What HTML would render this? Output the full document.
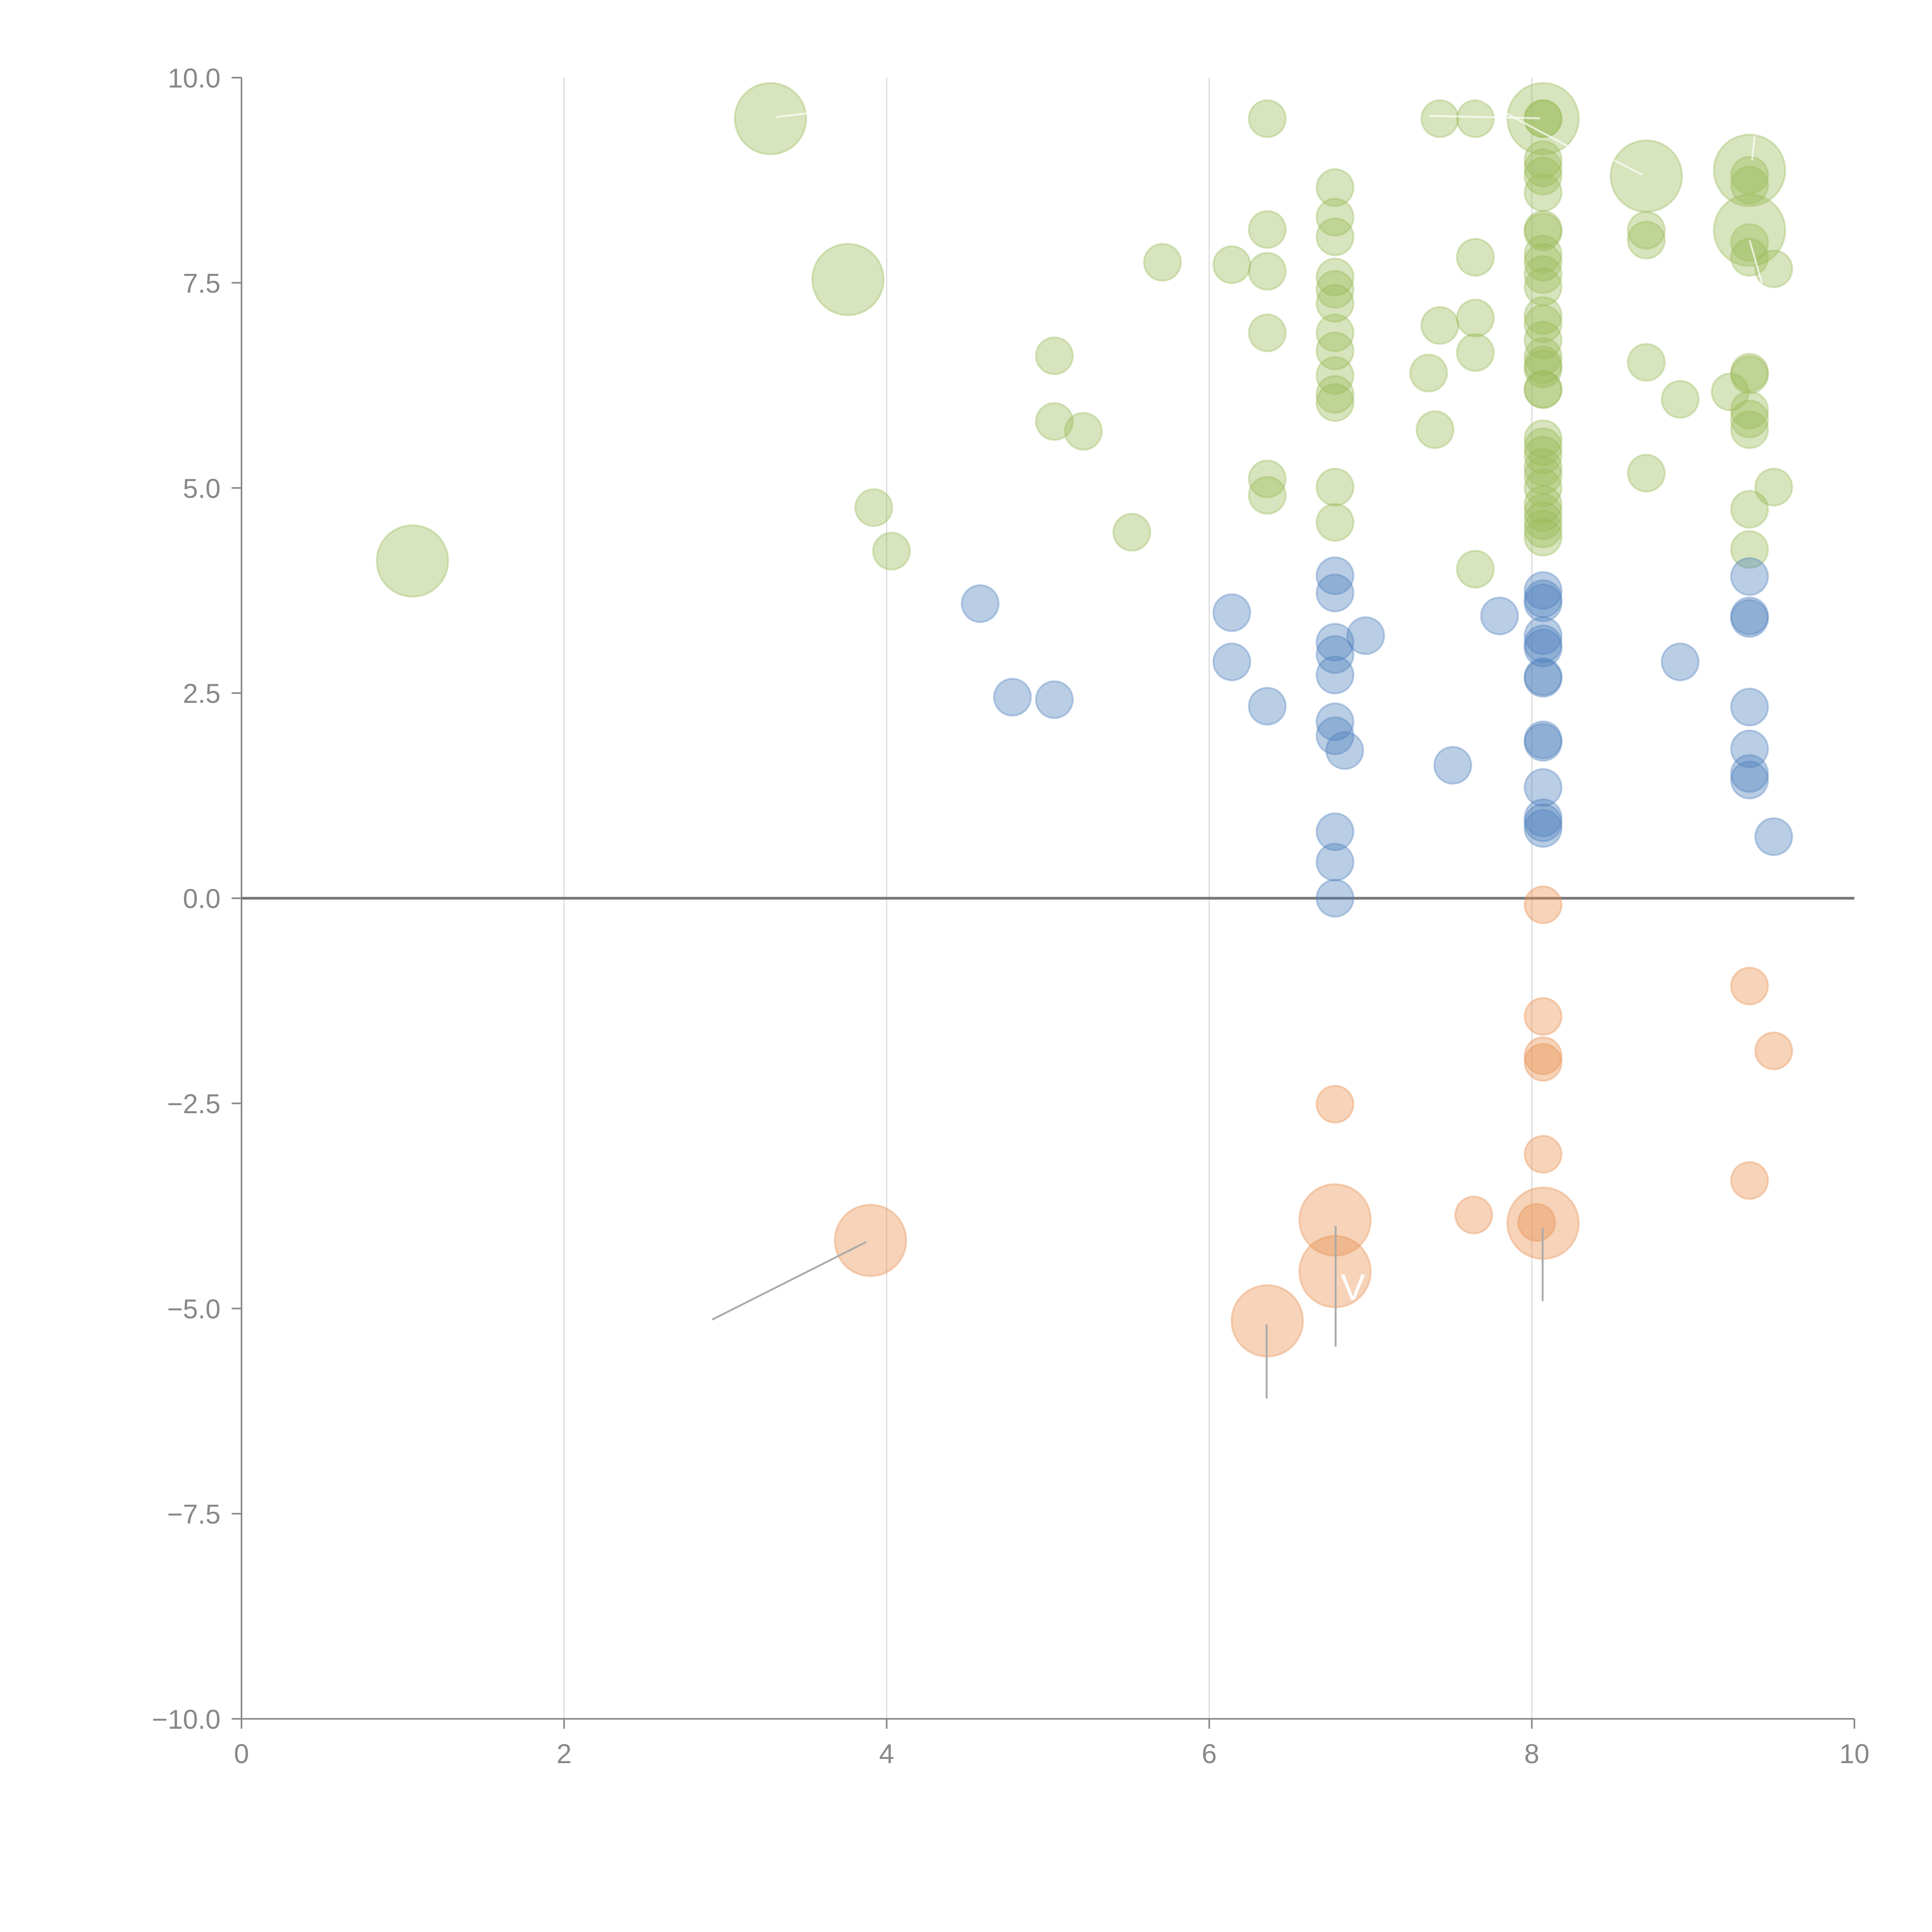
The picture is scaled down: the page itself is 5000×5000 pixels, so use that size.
<!DOCTYPE html>
<html><head><meta charset="utf-8"><style>html,body{margin:0;padding:0;background:#fff}svg{display:block}</style></head>
<body>
<svg id="chart" width="5000" height="5000" viewBox="0 0 1568 1568" xmlns="http://www.w3.org/2000/svg" font-family="Liberation Sans, sans-serif">
<g id="grid"></g>
<g id="axes"></g>
<g id="marks"></g>
<g id="annot"></g>
</svg>
<script>
const xTicks=[0,2,4,6,8,10];
const yTicks=[10,7.5,5,2.5,0,-2.5,-5,-7.5,-10];
const yTickLabels=["10.0","7.5","5.0","2.5","0.0","\u22122.5","\u22125.0","\u22127.5","\u221210.0"];
const greenX=[6.36,7.43,7.65,8.07,6.78,6.78,6.78,6.36,5.71,6.14,6.36,6.78,6.78,6.78,7.65,7.43,7.65,6.36,6.78,6.78,7.65,5.04,7.36,6.78,6.78,6.78,5.04,5.22,7.40,6.36,6.36,6.78,3.92,6.78,4.03,5.52,7.65,8.71,8.71,8.71,8.71,8.92,9.23,9.35,9.35,9.35,9.35,9.50,9.35,9.35,9.35,9.35,9.35,9.50,9.35,9.35,
8.07,8.07,8.07,8.07,8.07,8.07,8.07,8.07,8.07,8.07,8.07,8.07,8.07,8.07,8.07,8.07,8.07,8.07,8.07,8.07,8.07,8.07,8.07,8.07,8.07,8.07,8.07,8.07,8.07,8.07];
const greenY=[9.50,9.50,9.50,9.50,8.66,8.30,8.06,8.15,7.75,7.72,7.64,7.57,7.42,7.25,7.81,6.98,7.07,6.89,6.89,6.67,6.65,6.61,6.40,6.37,6.14,6.04,5.81,5.69,5.71,5.11,4.91,5.01,4.76,4.58,4.23,4.46,4.01,8.14,8.02,6.53,5.18,6.08,6.17,8.81,8.69,7.99,7.81,7.67,6.41,6.38,5.95,5.84,5.71,5.01,4.74,4.25,
9.0,8.9,8.8,8.6,8.15,8.12,7.85,7.75,7.6,7.45,7.1,7.0,6.8,6.6,6.5,6.45,6.2,6.2,5.6,5.5,5.4,5.25,5.15,5.0,4.8,4.7,4.6,4.5,4.4,9.5];
const greenBigX=[3.28,3.76,1.06,8.07,8.71,9.35,9.35];
const greenBigY=[9.50,7.54,4.11,9.50,8.80,8.87,8.14];
const blueX=[4.58,4.78,5.04,6.14,6.14,6.36,6.78,6.78,6.78,6.78,6.78,6.78,6.78,6.84,6.97,6.78,6.78,6.78,7.51,7.80,8.92,9.35,9.35,9.35,9.35,9.35,9.35,9.35,9.50,
8.07,8.07,8.07,8.07,8.07,8.07,8.07,8.07,8.07,8.07,8.07,8.07,8.07,8.07];
const blueY=[3.59,2.45,2.42,3.48,2.88,2.34,3.93,3.72,3.12,2.97,2.72,2.15,1.98,1.80,3.20,0.81,0.44,0.0,1.62,3.44,2.88,3.92,3.44,3.41,2.33,1.82,1.52,1.44,0.75,
3.75,3.65,3.6,3.2,3.1,3.05,2.7,2.68,1.93,1.9,1.35,0.98,0.92,0.85];
const orangeX=[8.07,9.35,9.50,8.07,8.07,8.07,6.78,8.07,9.35,7.64,8.03];
const orangeY=[-0.08,-1.07,-1.86,-1.44,-1.92,-2.0,-2.51,-3.12,-3.44,-3.86,-3.95];
const orangeBigX=[3.90,6.78,6.78,6.36,8.07];
const orangeBigY=[-4.17,-3.92,-4.55,-5.15,-3.96];

const NS="http://www.w3.org/2000/svg";
const X0=196,X1=1505,Y0=1395,Y1=63;
function sx(v){return X0+(v-0)/10*(X1-X0);}
function sy(v){return Y0-(v+10)/20*(Y0-Y1);}
function mk(tag,attrs,parent){const e=document.createElementNS(NS,tag);for(const k in attrs)e.setAttribute(k,attrs[k]);parent.appendChild(e);return e;}
const grid=document.getElementById('grid'),axes=document.getElementById('axes'),marks=document.getElementById('marks'),annot=document.getElementById('annot');

xTicks.forEach(t=>{
  if(t>0&&t<10){const l=mk('line',{x1:sx(t),x2:sx(t),y1:Y1,y2:Y0,stroke:'#dcdcdc','stroke-width':1},grid);
  
  }
  const tk=mk('line',{x1:sx(t),x2:sx(t),y1:Y0,y2:Y0+8,stroke:'#888','stroke-width':1.3},axes);
  
  
  const tx=mk('text',{x:sx(t),y:Y0+36,'text-anchor':'middle','font-size':22,fill:'#888'},axes);
  tx.textContent=String(t);
  
  
});
yTicks.forEach((t,i)=>{
  const tk=mk('line',{x1:X0-8,x2:X0,y1:sy(t),y2:sy(t),stroke:'#888','stroke-width':1.3},axes);
  
  
  const tx=mk('text',{x:X0-17,y:sy(t)+8,'text-anchor':'end','font-size':22,fill:'#888'},axes);
  tx.textContent=yTickLabels[i];
  
  
});
let a=mk('line',{x1:X0,x2:X0,y1:Y1,y2:Y0,stroke:'#888','stroke-width':1.3},axes);


a=mk('line',{x1:X0,x2:X1,y1:Y0,y2:Y0,stroke:'#888','stroke-width':1.3},axes);


a=mk('line',{x1:X0,x2:X1,y1:sy(0),y2:sy(0),stroke:'#777','stroke-width':2.2},axes);



function draw(xs,ys,r,color,name){
  xs.forEach((x,i)=>{
    const c=mk('circle',{cx:sx(x),cy:sy(ys[i]),r:r,fill:color,'fill-opacity':0.4,stroke:color,'stroke-opacity':0.35,'stroke-width':1.5},marks);
    
    
  });
}
draw(greenX,greenY,15,'#9bbb59','green-bubble');
draw(greenBigX,greenBigY,29,'#9bbb59','green-big-bubble');
draw(blueX,blueY,15,'#4f81bd','blue-bubble');
draw(orangeX,orangeY,15,'#e8904f','orange-bubble');
draw(orangeBigX,orangeBigY,29,'#e8904f','orange-big-bubble');

[[578,1071,703,1008],[1084,995,1084,1093],[1028,1075,1028,1135],[1252,997,1252,1056]].forEach(s=>{
  const l=mk('line',{x1:s[0],y1:s[1],x2:s[2],y2:s[3],stroke:'#aaa','stroke-width':1.5},annot);
  
  
});
[[630,95,655,92],[1160,94,1250,96],[1200,80,1275,120],[1310,130,1333,142],[1424,110,1422,130],[1420,195,1430,230]].forEach(s=>{
  const l=mk('line',{x1:s[0],y1:s[1],x2:s[2],y2:s[3],stroke:'#fff','stroke-width':1.5,'stroke-opacity':0.7},annot);
  
  
});
const v=mk('text',{x:1098,y:1055,'text-anchor':'middle','font-size':30,fill:'#fff'},annot);
v.textContent='V';


</script>
</body></html>
